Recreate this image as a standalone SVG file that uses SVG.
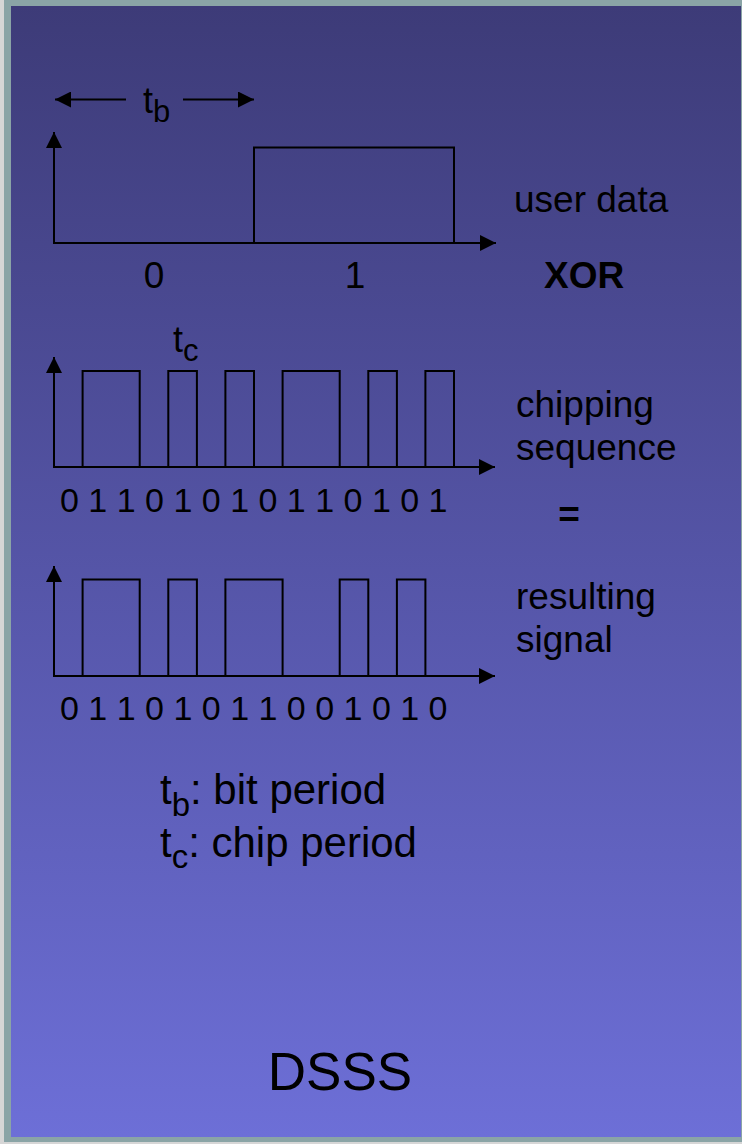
<svg xmlns="http://www.w3.org/2000/svg" width="742" height="1144" viewBox="0 0 742 1144">
  <defs>
    <linearGradient id="bg" x1="0" y1="0" x2="0" y2="1">
      <stop offset="0" stop-color="#3d3b78"/>
      <stop offset="1" stop-color="#6d6fd7"/>
    </linearGradient>
    <marker id="ah" viewBox="0 0 16 16" refX="16" refY="8" markerWidth="16" markerHeight="16" markerUnits="userSpaceOnUse" orient="auto">
      <path d="M0,0 L16,8 L0,16 Z" fill="#000"/>
    </marker>
    <style>
      .ln { fill: none; stroke: #000; stroke-width: 2; }
      .ax { fill: none; stroke: #000; stroke-width: 2; marker-end: url(#ah); }
      .t { font-family: "Liberation Sans", Arial, sans-serif; fill: #000; }
      .lbl { font-size: 37px; }
      .bits { font-size: 34px; }
    </style>
  </defs>

  <rect x="0" y="0" width="742" height="1144" fill="#d6d6d6"/>
  <rect x="4" y="0" width="738" height="1142" fill="#8aa4a6"/>
  <rect x="11" y="6" width="730" height="1131" fill="url(#bg)"/>

  <g id="connectors">
    <line class="ax" x1="126" y1="99.5" x2="55" y2="99.5"/>
    <line class="ax" x1="183" y1="99.5" x2="254" y2="99.5"/>
  </g>

  <g id="tb-label">
    <text class="t" x="143" y="113" font-size="36">t<tspan font-size="31" dy="9">b</tspan></text>
  </g>

  <g id="user-data-plot">
    <line class="ax" x1="54" y1="243" x2="54" y2="132"/>
    <line class="ax" x1="53" y1="243" x2="496" y2="243"/>
    <polyline class="ln" points="54,243 254,243 254,147.5 454,147.5 454,243"/>
    <text class="t lbl" x="154" y="288" text-anchor="middle">0</text>
    <text class="t lbl" x="355" y="288" text-anchor="middle">1</text>
  </g>

  <g id="user-data-label">
    <text class="t lbl" x="514" y="212">user data</text>
  </g>

  <g id="xor-label">
    <text class="t lbl" x="544" y="288" font-weight="bold">XOR</text>
  </g>

  <g id="tc-label">
    <text class="t" x="173" y="352" font-size="36">t<tspan font-size="31" dy="9">c</tspan></text>
  </g>

  <g id="chipping-plot">
    <line class="ax" x1="54" y1="467" x2="54" y2="357"/>
    <line class="ax" x1="53" y1="467" x2="495" y2="467"/>
    <polyline class="ln" points="54,467 82.6,467 82.6,371 139.7,371 139.7,467 168.3,467 168.3,371 196.9,371 196.9,467 225.4,467 225.4,371 254,371 254,467 282.6,467 282.6,371 339.7,371 339.7,467 368.3,467 368.3,371 396.9,371 396.9,467 425.4,467 425.4,371 454,371 454,467"/>
    <text class="t bits" x="60" y="512">0 1 1 0 1 0 1 0 1 1 0 1 0 1</text>
  </g>

  <g id="chipping-label">
    <text class="t lbl" x="516" y="417">chipping</text>
    <text class="t lbl" x="516" y="460">sequence</text>
  </g>

  <g id="equals-label">
    <text class="t lbl" x="569" y="527" text-anchor="middle" font-weight="bold">=</text>
  </g>

  <g id="result-plot">
    <line class="ax" x1="54" y1="676" x2="54" y2="566"/>
    <line class="ax" x1="53" y1="676" x2="495" y2="676"/>
    <polyline class="ln" points="54,676 82.6,676 82.6,579.5 139.7,579.5 139.7,676 168.3,676 168.3,579.5 196.9,579.5 196.9,676 225.4,676 225.4,579.5 282.6,579.5 282.6,676 339.7,676 339.7,579.5 368.3,579.5 368.3,676 396.9,676 396.9,579.5 425.4,579.5 425.4,676 454,676"/>
    <text class="t bits" x="60" y="720">0 1 1 0 1 0 1 1 0 0 1 0 1 0</text>
  </g>

  <g id="result-label">
    <text class="t lbl" x="516" y="609">resulting</text>
    <text class="t lbl" x="516" y="652">signal</text>
  </g>

  <g id="legend">
    <text class="t" x="160" y="804" font-size="42">t<tspan font-size="33" dy="12">b</tspan><tspan dy="-12">: bit period</tspan></text>
    <text class="t" x="160" y="857" font-size="42">t<tspan font-size="33" dy="11">c</tspan><tspan dy="-11">: chip period</tspan></text>
  </g>

  <g id="title">
    <text class="t" x="340" y="1090" font-size="53" text-anchor="middle">DSSS</text>
  </g>
</svg>
